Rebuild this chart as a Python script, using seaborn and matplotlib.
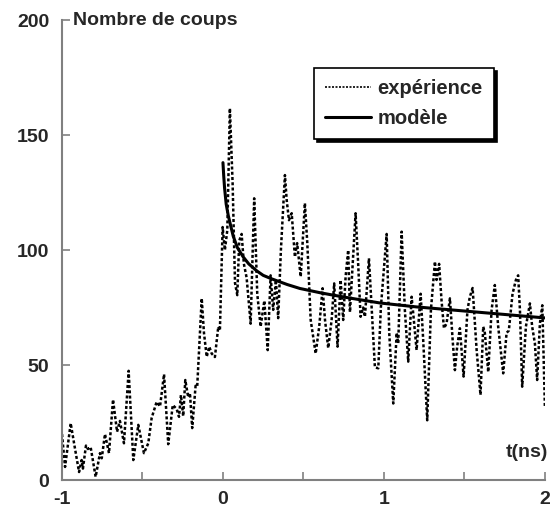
import matplotlib
matplotlib.use("Agg")
import matplotlib.pyplot as plt
from matplotlib.font_manager import FontProperties
import seaborn as sns
import pandas as pd

# mesures (temps en ns, nombre de coups)
t_exp = [-1.000, -0.981, -0.946, -0.925, -0.894, -0.878, -0.870, -0.851, -0.839, -0.822,
         -0.791, -0.764, -0.753, -0.733, -0.708, -0.683, -0.658, -0.640, -0.615, -0.586,
         -0.557, -0.526, -0.491, -0.464, -0.443, -0.412, -0.391, -0.366, -0.340, -0.312,
         -0.288, -0.273, -0.261, -0.247, -0.234, -0.216, -0.205, -0.191, -0.170, -0.160,
         -0.132, -0.118, -0.101, -0.085, -0.070, -0.050, -0.029, -0.019, -0.002, 0.012,
         0.027, 0.043, 0.060, 0.075, 0.089, 0.101, 0.116, 0.130, 0.147, 0.172,
         0.194, 0.213, 0.234, 0.257, 0.278, 0.296, 0.312, 0.329, 0.343, 0.360,
         0.385, 0.396, 0.410, 0.427, 0.447, 0.461, 0.483, 0.509, 0.524, 0.545,
         0.576, 0.598, 0.619, 0.634, 0.654, 0.675, 0.691, 0.712, 0.731, 0.747,
         0.762, 0.778, 0.789, 0.806, 0.824, 0.840, 0.855, 0.871, 0.882, 0.907,
         0.924, 0.944, 0.965, 0.981, 1.017, 1.033, 1.058, 1.079, 1.089, 1.110,
         1.130, 1.151, 1.172, 1.182, 1.203, 1.228, 1.244, 1.269, 1.292, 1.317,
         1.327, 1.343, 1.358, 1.373, 1.389, 1.410, 1.427, 1.441, 1.455, 1.472,
         1.495, 1.519, 1.534, 1.551, 1.576, 1.600, 1.617, 1.627, 1.648, 1.669,
         1.689, 1.710, 1.741, 1.762, 1.776, 1.799, 1.820, 1.834, 1.845, 1.859,
         1.882, 1.907, 1.921, 1.938, 1.952, 1.969, 1.984, 2.000]
n_exp = [20, 5.7, 24.7, 16, 3.5, 8.7, 5, 15, 13.5, 14.3,
         1.4, 11.7, 9.5, 20, 11.7, 35, 21, 25.7, 16, 47.5,
         8.7, 24, 11.7, 16, 27, 34, 32, 46, 15.6, 32.6,
         31, 27.5, 37, 27.8, 43.5, 36, 37.8, 22.6, 41, 40.6,
         79, 64, 53.6, 58, 55, 53.5, 66.7, 65, 110, 100,
         108.7, 161.6, 129, 85.6, 80.4, 104, 107, 94, 88, 68,
         122.5, 81, 66.7, 78, 56.5, 89, 74, 87, 70.4, 100,
         132.6, 121.7, 113, 116, 97, 103, 88.4, 120.4, 103, 69.6,
         55, 66.7, 83.4, 69.6, 57.4, 69.6, 85.5, 58, 87, 69.6,
         88.4, 100, 73, 94, 116, 94, 71, 75, 71, 96.4,
         75, 49, 48.6, 75, 107, 64, 33.3, 64, 59.4, 108,
         74, 51.5, 79.7, 72.5, 56.5, 81, 60.9, 26, 74, 95,
         87, 94, 78, 66, 68, 79, 60.9, 47.8, 58, 66,
         45, 74, 79.7, 83.5, 56.5, 37, 66.7, 64, 47, 74,
         84.8, 66.7, 46.4, 64, 65, 81, 87, 89, 74, 40.6,
         66.7, 76.8, 66.7, 59.4, 43.5, 68, 76, 32]

# modèle
t_mod = [0.0, 0.005, 0.01, 0.02, 0.033, 0.05, 0.064, 0.09, 0.126, 0.16, 0.209,
         0.25, 0.302, 0.4, 0.478, 0.6, 0.685, 0.8, 0.975, 1.2, 1.5, 1.75, 2.0]
n_mod = [138, 132, 127, 120, 115, 110, 106, 101, 97, 94, 91,
         89, 87.5, 85, 83.3, 81.5, 80.4, 79, 77, 75.3, 73.5, 72, 70.5]

df_exp = pd.DataFrame({"t": t_exp, "n": n_exp})
df_mod = pd.DataFrame({"t": t_mod, "n": n_mod})

sns.set_style("ticks")
plt.rcParams["font.family"] = ["Liberation Sans", "DejaVu Sans"]
plt.rcParams["font.weight"] = "bold"
fs = 14
bold = FontProperties(family="Liberation Sans", weight="bold", size=fs)
bold_leg = FontProperties(family="Liberation Sans", weight="bold", size=14.5)

fig = plt.figure(figsize=(5.56, 5.14), dpi=100)
ax = fig.add_axes([0.1115, 0.066, 0.8685, 0.895])

sns.lineplot(data=df_exp, x="t", y="n", ax=ax, color="black", lw=1.8,
             linestyle=(0, (1.2, 0.9)), label="expérience", sort=False)
sns.lineplot(data=df_mod, x="t", y="n", ax=ax, color="black", lw=2.2,
             label="modèle", sort=False)

ax.set_xlim(-1, 2)
ax.set_ylim(0, 200)
ax.set_xticks([-1, -0.5, 0, 0.5, 1, 1.5, 2])
ax.set_xticklabels(["-1", "", "0", "", "1", "", "2"])
ax.set_yticks([0, 50, 100, 150, 200])
ax.set_xlabel("")
ax.set_ylabel("")

for s in ["top", "right"]:
    ax.spines[s].set_visible(False)
for s in ["left", "bottom"]:
    ax.spines[s].set_color("#808080")
    ax.spines[s].set_linewidth(1.5)
ax.tick_params(axis="both", direction="in", length=6, width=1.2, color="#808080",
               labelsize=fs)
ax.tick_params(axis="y", pad=9)
ax.tick_params(axis="x", pad=8)
for lab in ax.get_xticklabels() + ax.get_yticklabels():
    lab.set_fontweight("bold")

ax.text(-0.93, 200, "Nombre de coups", fontproperties=bold,
        va="center", ha="left", clip_on=False)
ax.text(2.02, 12, "t(ns)", fontproperties=bold, ha="right", va="center")

leg = ax.legend(loc="upper left", bbox_to_anchor=(0.522, 0.896), frameon=True,
                fancybox=False, shadow={"color": "black", "alpha": 1},
                edgecolor="black", framealpha=1, handlelength=2.3,
                handletextpad=0.3, borderpad=0.55, labelspacing=0.55,
                borderaxespad=0, prop=bold_leg)
leg.get_frame().set_linewidth(1.2)
leg.get_lines()[0].set_linewidth(1.2)

fig.savefig("out.png", dpi=100)
